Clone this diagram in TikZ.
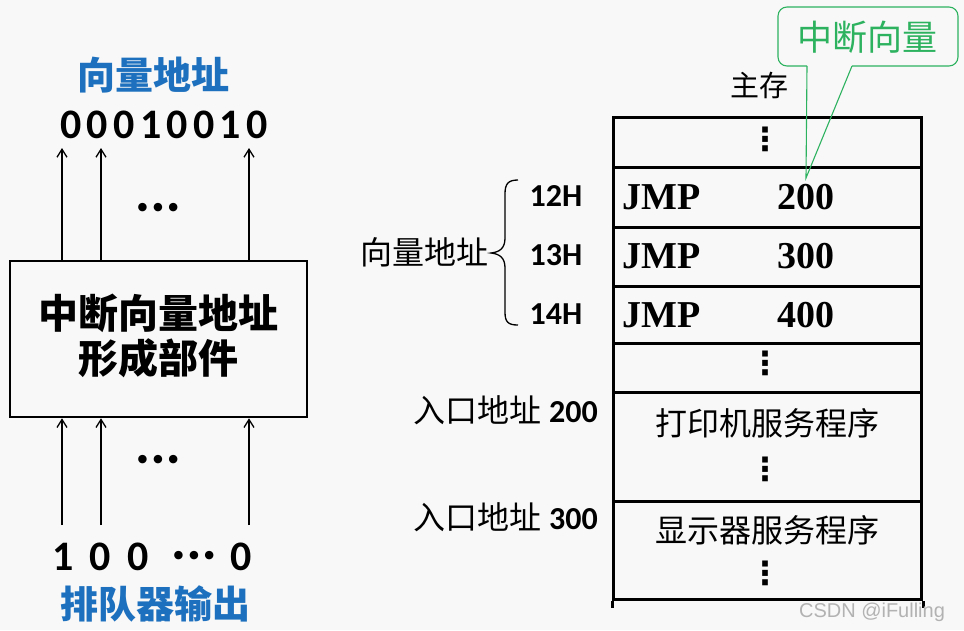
\documentclass[tikz,border=0pt]{standalone}
\usepackage{fontspec}
\setmainfont{Liberation Serif}
\newfontfamily\cjk{Noto Sans CJK SC}
\newfontfamily\digitf{Carlito}
\newfontfamily\dvs{DejaVu Sans}
\newfontfamily\wmf{Liberation Sans}
\usetikzlibrary{arrows.meta}
\definecolor{vblue}{RGB}{28,112,190}
\definecolor{cgreen}{RGB}{45,178,95}
\definecolor{bgc}{RGB}{248,248,248}
\begin{document}
\begin{tikzpicture}[x=1pt,y=-1pt,
  arr/.style={line width=1.3pt,-{Straight Barb[length=8pt,width=10pt]}},
  bluetitle/.style={font=\cjk\bfseries\fontsize{38}{38}\selectfont,text=vblue,inner sep=0},
  boxtext/.style={font=\cjk\bfseries\fontsize{40}{40}\selectfont,inner sep=0},
  bigdigit/.style={font=\digitf\bfseries\fontsize{42}{42}\selectfont,inner sep=0},
  hdots/.style={font=\dvs\bfseries\fontsize{24}{24}\selectfont,inner sep=0},
  vdots/.style={font=\dvs\bfseries\fontsize{32}{32}\selectfont,inner sep=0},
  cjkreg/.style={font=\cjk\fontsize{32}{32}\selectfont,inner sep=0},
  addr/.style={font=\digitf\bfseries\fontsize{32}{32}\selectfont,inner sep=0},
  instr/.style={font=\bfseries\fontsize{38}{38}\selectfont,inner sep=0},
  row/.style={draw,line width=3pt,minimum width=308pt,inner sep=0,anchor=north west},
]
\fill[bgc] (0,0) rectangle (964,630);
\useasboundingbox (0,0) rectangle (964,630);

% ---------- left part ----------
\node[bluetitle] (vtitle) at (153,75) {向量地址};
\foreach \d [count=\i from 0] in {0,0,0,1,0,0,1,0}{
  \node[bigdigit] (vd\i) at ({71+26.6*\i},125) {\d};
}
\node[draw,line width=2.5pt,minimum width=297pt,minimum height=156pt,inner sep=0] (box) at (158.5,339) {};
\node[boxtext] (bt1) at (158,313) {中断向量地址};
\node[boxtext] (bt2) at (158,358) {形成部件};

\coordinate (t1) at (62,148);
\coordinate (t2) at (101,148);
\coordinate (t3) at (249,148);
\foreach \c in {t1,t2,t3}{ \draw[arr] (\c |- box.north) -- (\c); }
\node[hdots] (tdots) at (158,210) {•••};

\coordinate (b1) at (62,525);
\coordinate (b2) at (101,525);
\coordinate (b3) at (249,525);
\foreach \c in {b1,b2,b3}{ \draw[arr] (\c) -- (\c |- box.south); }
\node[hdots] (bdots) at (158,462) {•••};

\node[bigdigit] (q1) at (63,557) {1};
\node[bigdigit] (q2) at (100,557) {0};
\node[bigdigit] (q3) at (138,557) {0};
\node[hdots] (q4) at (194,558) {•••};
\node[bigdigit] (q5) at (241,557) {0};
\node[bluetitle] (qtitle) at (155,604) {排队器输出};

% ---------- memory ----------
\node[font=\cjk\fontsize{29}{29}\selectfont,inner sep=0] (zc) at (759,85) {主存};
\node[row,minimum height=50pt] (r1) at (612,116) {};
\node[row,minimum height=60pt] (r2) at (612,166) {};
\node[row,minimum height=59pt] (r3) at (612,226) {};
\node[row,minimum height=57pt] (r4) at (612,285) {};
\node[row,minimum height=49pt] (r5) at (612,342) {};
\node[row,minimum height=109pt] (r6) at (612,391) {};
\node[row,minimum height=98pt] (r7) at (612,500) {};
\draw[line width=3pt] (r7.south west) -- ++(0,7);
\draw[line width=3pt] (r7.south east) -- ++(0,7);

\node[vdots] (d1) at (765,139) {⋮};
\node[instr,anchor=west] (j1) at (622,197) {JMP};
\node[instr] (n1) at (806,197) {200};
\node[instr,anchor=west] (j2) at (622,256) {JMP};
\node[instr] (n2) at (806,256) {300};
\node[instr,anchor=west] (j3) at (622,315) {JMP};
\node[instr] (n3) at (806,315) {400};
\node[vdots] (d2) at (765,363) {⋮};
\node[cjkreg] (p1) at (767,423) {打印机服务程序};
\node[vdots] (d3) at (765,469) {⋮};
\node[cjkreg] (p2) at (767,530) {显示器服务程序};
\node[vdots] (d4) at (765,573) {⋮};

% ---------- labels left of memory ----------
\node[addr] (a12) at (556,196) {12H};
\node[addr] (a13) at (556,255) {13H};
\node[addr] (a14) at (556,314) {14H};
\draw[line width=1.3pt] (518,180) .. controls (508,180) and (505,184) .. (505,194)
  -- (505,238) .. controls (505,248) and (500,252) .. (491,253)
  .. controls (500,254) and (505,258) .. (505,268)
  -- (505,312) .. controls (505,322) and (508,325) .. (518,325);
\node[cjkreg,anchor=east] (vlab) at (489,252) {向量地址};
\node[anchor=east,inner sep=0] (e200) at (598,410) {\cjk\fontsize{32}{32}\selectfont 入口地址\ \digitf\bfseries\fontsize{32}{32}\selectfont 200};
\node[anchor=east,inner sep=0] (e300) at (598,517) {\cjk\fontsize{32}{32}\selectfont 入口地址\ \digitf\bfseries\fontsize{32}{32}\selectfont 300};

% ---------- callout ----------
\node[font=\cjk\fontsize{35}{35}\selectfont,text=cgreen,inner sep=0] (ct) at (867,37) {中断向量};
\coordinate (tip) at (806,178);
\coordinate (cl) at (807,66);
\coordinate (cr) at (852,66);
\draw[cgreen,line width=1.1pt,rounded corners=9pt] (cr) -- (958,66) -- (958,7) -- (778,7) -- (778,66) -- (cl);
\draw[cgreen,line width=1.1pt] (cl) -- (tip) -- (cr);

% watermark
\node[font=\wmf\fontsize{20}{20}\selectfont,text=black!30,inner sep=0] (wm) at (872,612) {CSDN @iFulling};
\end{tikzpicture}
\end{document}
